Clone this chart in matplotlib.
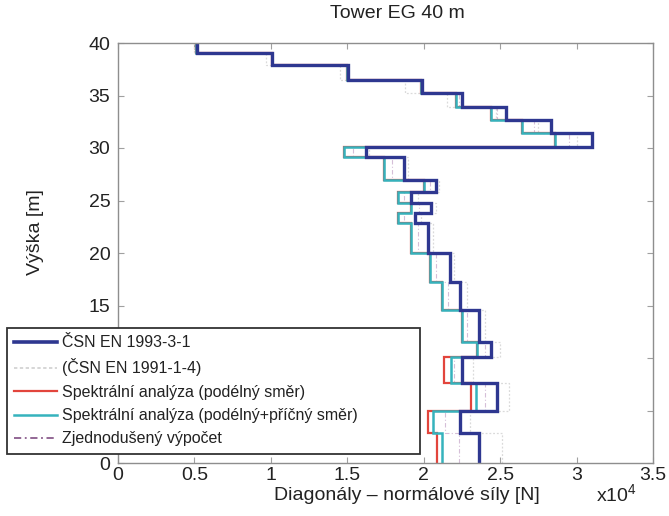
import matplotlib
matplotlib.use('Agg')
import numpy as np
import matplotlib.pyplot as plt
from matplotlib.lines import Line2D
from matplotlib.ticker import MultipleLocator, FuncFormatter

plt.rcParams['font.family'] = ['Liberation Sans', 'DejaVu Sans']
plt.rcParams['mathtext.fontset'] = 'custom'
plt.rcParams['mathtext.rm'] = 'Liberation Sans'
plt.rcParams['mathtext.it'] = 'Liberation Sans:italic'

# panel boundaries along the tower height [m]
heights = [0, 2.9, 5.0, 7.6, 10.1, 11.5, 14.6, 17.2, 20.0, 22.9, 23.8, 24.8,
           25.8, 27.0, 29.1, 30.1, 31.4, 32.7, 33.9, 35.2, 36.5, 37.9, 39.05, 40]

# diagonal normal forces per panel [N], bottom to top
csn_1993 = [23600, 22400, 24800, 22500, 24400, 23600, 22400, 21700, 20300, 19400,
            20500, 19200, 20800, 18700, 16200, 31000, 28300, 25400, 22500, 19900,
            15050, 10100, 5150]
csn_1991 = [25100, 23000, 25600, 23200, 25000, 24000, 22800, 22000, 20600, 19800,
            20800, 19600, 21000, 19000, 16400, 30000, 27500, 24700, 21500, 18800,
            14500, 9700, 5000]
spec_long = [20900, 20300, 23100, 21300, 23500, 22500, 21200, 20400, 19200, 18300,
             19200, 18300, 20000, 17400, 14800, 28600, 26400, 24400, 22100, 19800,
             15000, 10050, 5100]
spec_long_trans = [21200, 20600, 23400, 21800, 23500, 22500, 21200, 20400, 19200, 18300,
                   19200, 18300, 20000, 17400, 14800, 28600, 26400, 24400, 22100, 19800,
                   15000, 10050, 5100]
simplified = [22300, 21400, 24000, 22000, 24000, 22800, 21600, 20800, 19600, 18700,
              19700, 18700, 20400, 17900, 15400, 29500, 27200, 24800, 22300, 19900,
              15000, 10050, 5100]

legend_labels = ['ČSN EN 1993-3-1', '(ČSN EN 1991-1-4)',
                 'Spektrální analýza (podélný směr)',
                 'Spektrální analýza (podélný+příčný směr)',
                 'Zjednodušený výpočet']

c_blue = '#2e3790'
c_gray = '#dadada'
c_red = '#e2453c'
c_cyan = '#35b3bd'
c_purple = '#b48ab8'

fig = plt.figure(figsize=(6.69, 5.16), dpi=100)
ax = fig.add_axes([118 / 669, 1 - 463 / 516, (653 - 118) / 669, (463 - 43) / 516])

ax.stairs(np.array(csn_1991), heights, orientation='horizontal', baseline=None,
          color=c_gray, lw=0.9, linestyle=(0, (1.5, 1.5)), zorder=2)
ax.stairs(np.array(simplified), heights, orientation='horizontal', baseline=None,
          color=c_purple, lw=0.8, linestyle=(0, (4, 2, 1, 2)), alpha=0.55, zorder=2.1)
ax.stairs(np.array(spec_long), heights, orientation='horizontal', baseline=None,
          color=c_red, lw=1.6, zorder=2.2)
ax.stairs(np.array(spec_long_trans), heights, orientation='horizontal', baseline=None,
          color=c_cyan, lw=1.8, zorder=2.3)
ax.stairs(np.array(csn_1993), heights, orientation='horizontal', baseline=None,
          color=c_blue, lw=2.4, zorder=2.4)

ax.set_xlim(0, 35000)
ax.set_ylim(0, 40)
ax.xaxis.set_major_locator(MultipleLocator(5000))
ax.yaxis.set_major_locator(MultipleLocator(5))
ax.xaxis.set_major_formatter(FuncFormatter(lambda v, p: f'{v / 1e4:g}'))
ax.yaxis.set_major_formatter(FuncFormatter(lambda v, p: f'{v:g}'))

for s in ax.spines.values():
    s.set_color('#8e8e8e')
    s.set_linewidth(1.0)
ax.tick_params(direction='in', length=4, width=0.8, color='#a0a0a0',
               labelsize=14, labelcolor='#222222', top=True, right=True)
ax.tick_params(axis='x', pad=3)
ax.tick_params(axis='y', pad=5.5)

handles = [
    Line2D([], [], color=c_blue, lw=2.6),
    Line2D([], [], color='#cfcfcf', lw=1.2, linestyle=(0, (2, 1.5))),
    Line2D([], [], color=c_red, lw=1.6),
    Line2D([], [], color=c_cyan, lw=1.8),
    Line2D([], [], color='#8a5c8c', lw=1.3, linestyle=(0, (4, 2, 1, 2))),
]
leg = ax.legend(handles, legend_labels, loc='upper left',
                bbox_to_anchor=(7 / 669, 1 - 457 / 516, (420 - 7) / 669, (457 - 328) / 516),
                bbox_transform=fig.transFigure, mode='expand', borderaxespad=0,
                fontsize=11.5, frameon=True, fancybox=False, framealpha=1,
                borderpad=0.45, labelspacing=0.52, handlelength=2.7, handletextpad=0.3)
leg.get_frame().set_edgecolor('#333333')
leg.get_frame().set_linewidth(1.3)
leg.set_zorder(10)
for t in leg.get_texts():
    t.set_color('#222222')

fig.text(397 / 669, 1 - 14 / 516, 'Tower EG 40 m', ha='center', va='center',
         fontsize=14, color='#222222')
fig.text(407 / 669, 1 - 495 / 516, 'Diagonály – normálové síly [N]', ha='center',
         va='center', fontsize=14, color='#222222')
fig.text(616 / 669, 1 - 494 / 516, 'x10$^{4}$', ha='center', va='center',
         fontsize=14, color='#222222')
fig.text(35 / 669, 1 - 232 / 516, 'Výška [m]', ha='center', va='center',
         rotation=90, fontsize=14, color='#222222')

fig.savefig('out.png', dpi=100)
